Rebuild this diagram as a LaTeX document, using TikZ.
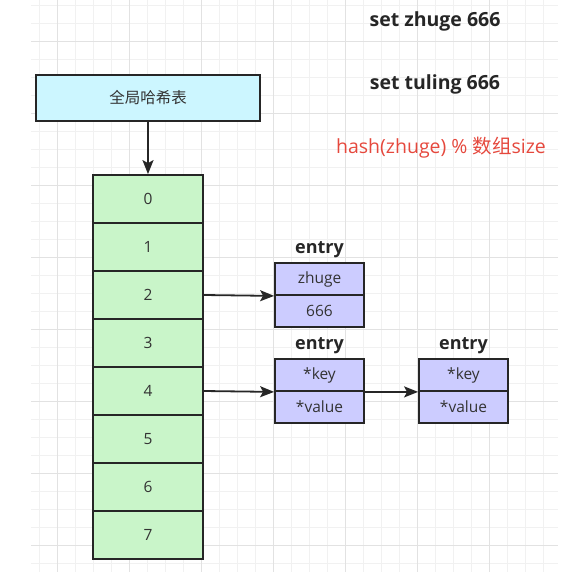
\documentclass[tikz,border=0pt]{standalone}
\usepackage{fontspec}
\setmainfont{Open Sans}
\newfontfamily\cjk{Noto Sans CJK SC}
\usetikzlibrary{arrows.meta}

\definecolor{gridminor}{HTML}{F1F1F1}
\definecolor{gridmajor}{HTML}{E2E2E2}
\definecolor{boxline}{HTML}{262626}
\definecolor{tablecyan}{HTML}{CCF6FF}
\definecolor{slotgreen}{HTML}{C9F5C9}
\definecolor{entryblue}{HTML}{CCCCFF}
\definecolor{hashred}{HTML}{E5483D}
\definecolor{textgray}{HTML}{333333}

\tikzset{
  tablebox/.style={draw=boxline, line width=1.8pt, fill=tablecyan, minimum width=224pt, minimum height=46pt, text=textgray, font=\cjk\fontsize{15.5}{18}\selectfont},
  slot/.style={draw=boxline, line width=1.8pt, fill=slotgreen, minimum width=110pt, minimum height=48pt, text=textgray, font=\fontsize{15.5}{18}\selectfont},
  field/.style={draw=boxline, line width=1.8pt, fill=entryblue, minimum width=89pt, minimum height=32pt, text=textgray, font=\fontsize{15.5}{18}\selectfont},
  entrylabel/.style={text=boxline, font=\bfseries\fontsize{18}{21}\selectfont},
  cmd/.style={text=boxline, font=\bfseries\fontsize{19.5}{23}\selectfont},
  ptr/.style={draw=boxline, line width=1.8pt, -{Stealth[length=14pt, width=11pt, inset=3pt]}}
}

\begin{document}
\begin{tikzpicture}[x=1pt, y=-1pt]
  \useasboundingbox (0,0) rectangle (567,576);

  % grid
  \begin{scope}
    \clip (31,0) rectangle (558,572);
    \foreach\k in {0,...,29}{
      \pgfmathsetmacro\x{39+18*\k}
      \draw[gridminor, line width=0.8pt] (\x,0) -- (\x,572);
    }
    \foreach\k in {0,...,31}{
      \pgfmathsetmacro\y{5+18*\k}
      \draw[gridminor, line width=0.8pt] (31,\y) -- (558,\y);
    }
    \foreach\k in {1,5,...,29}{
      \pgfmathsetmacro\x{39+18*\k}
      \draw[gridmajor, line width=0.8pt] (\x,0) -- (\x,572);
    }
    \foreach\k in {2,6,...,30}{
      \pgfmathsetmacro\y{5+18*\k}
      \draw[gridmajor, line width=0.8pt] (31,\y) -- (558,\y);
    }
  \end{scope}

  \node[tablebox] (table) at (148,98) {全局哈希表};

  \foreach\name in {0,...,7}{
    \pgfmathsetmacro\y{199+48*\name}
    \node[slot] (slot\name) at (148,\y) {\name};
  }

  \draw[ptr] (table) -- (slot0);

  \node[entrylabel] (label1) at (319.5,250) {entry};
  \node[field] (e1key) at (319.5,279) {zhuge};
  \node[field] (e1val) at (319.5,311) {666};

  \node[entrylabel] (label2) at (319.5,346) {entry};
  \node[field] (e2key) at (319.5,375) {*key};
  \node[field] (e2val) at (319.5,407) {*value};

  \node[entrylabel] (label3) at (463.5,346) {entry};
  \node[field] (e3key) at (463.5,375) {*key};
  \node[field] (e3val) at (463.5,407) {*value};

  \draw[ptr] (slot2.east) -- (e1key.south west);
  \draw[ptr] (slot4.east) -- (e2key.south west);
  \draw[ptr] (e2key.south east) -- (e3key.south west);

  \node[cmd] (cmd1) at (435,21) {set zhuge 666};
  \node[cmd] (cmd2) at (435,84) {set tuling 666};
  \node[text=hashred, font=\fontsize{19.5}{23}\selectfont] (hashfn) at (441,148) {hash(zhuge) \% {\cjk 数组}size};
\end{tikzpicture}
\end{document}
